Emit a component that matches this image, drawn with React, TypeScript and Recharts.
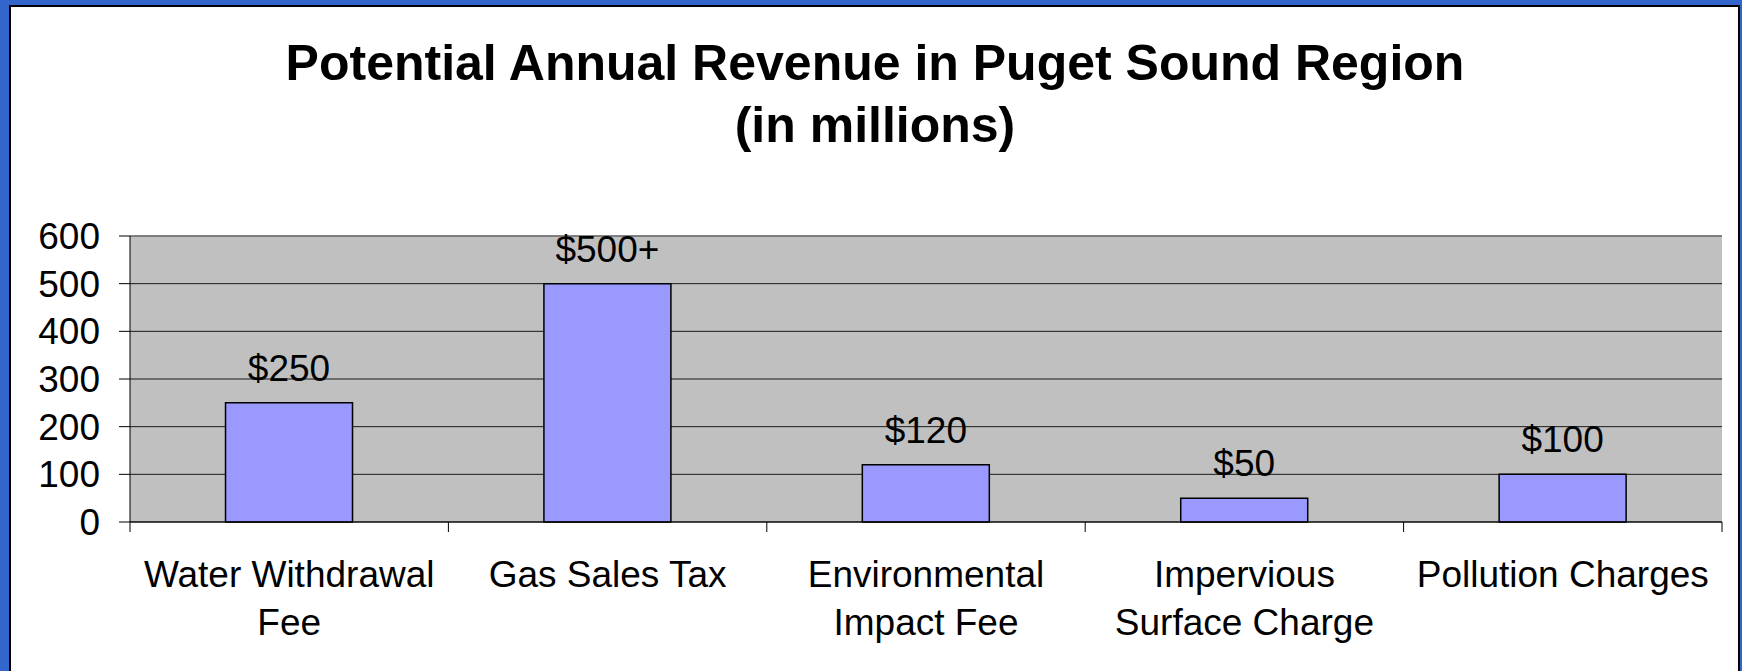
import React from 'react';
import { BarChart, Bar, XAxis, YAxis, CartesianGrid, LabelList, ReferenceLine } from 'recharts';

const categories = [
  'Water Withdrawal\nFee',
  'Gas Sales Tax',
  'Environmental\nImpact Fee',
  'Impervious\nSurface Charge',
  'Pollution Charges',
];
const revenue = [250, 500, 120, 50, 100];
const valueLabels = ['$250', '$500+', '$120', '$50', '$100'];
const yTicks = [0, 100, 200, 300, 400, 500, 600];
const titleLines = ['Potential Annual Revenue in Puget Sound Region', '(in millions)'];

const data = categories.map((c, i) => ({ name: c, value: revenue[i], label: valueLabels[i] }));

const W = 1742;
const H = 671;
const Y_AXIS_W = 130;
const MARGIN_RIGHT = 20;
const MARGIN_TOP = 236;
const X_AXIS_H = 149;
const PLOT_BOTTOM = H - X_AXIS_H;
const BAND = (W - Y_AXIS_W - MARGIN_RIGHT) / categories.length;
const FONT = '"Liberation Sans", Arial, Helvetica, sans-serif';

const CategoryTick = (props: any) => {
  const { x, payload, index } = props;
  const lines = String(payload.value).split('\n');
  const half = BAND / 2;
  return (
    <g>
      <line x1={x - half} x2={x - half} y1={PLOT_BOTTOM} y2={PLOT_BOTTOM + 10} stroke="#000" strokeWidth={1} />
      {index === categories.length - 1 && (
        <line x1={x + half} x2={x + half} y1={PLOT_BOTTOM} y2={PLOT_BOTTOM + 10} stroke="#000" strokeWidth={1} />
      )}
      <text x={x} y={PLOT_BOTTOM + 65} textAnchor="middle" fontSize={37} fill="#000" fontFamily={FONT}>
        {lines.map((l, i) => (
          <tspan key={i} x={x} dy={i === 0 ? 0 : 47.5}>
            {l}
          </tspan>
        ))}
      </text>
    </g>
  );
};

export default function App() {
  return (
    <div style={{ position: 'fixed', left: 0, top: 0, width: W, height: H, background: '#3366CC', overflow: 'hidden' }}>
      <div
        style={{
          position: 'absolute',
          left: 9,
          top: 5,
          width: 1731,
          height: 720,
          background: '#fff',
          borderLeft: '2px solid #000',
          borderTop: '2px solid #000',
          borderRight: '2px solid #000',
          boxSizing: 'border-box',
        }}
      />
      <div style={{ position: 'absolute', left: 0, top: 0 }}>
        <BarChart
          width={W}
          height={H}
          data={data}
          margin={{ top: MARGIN_TOP, right: MARGIN_RIGHT, bottom: 0, left: 0 }}
          barCategoryGap="30%"
        >
          <CartesianGrid vertical={false} fill="#C0C0C0" stroke="#1a1a1a" strokeWidth={1} />
          <XAxis
            dataKey="name"
            height={X_AXIS_H}
            interval={0}
            tickLine={false}
            axisLine={{ stroke: '#000', strokeWidth: 1 }}
            tick={<CategoryTick />}
          />
          <YAxis
            width={Y_AXIS_W}
            domain={[0, 600]}
            ticks={yTicks}
            interval={0}
            tickSize={11}
            tickMargin={19}
            axisLine={{ stroke: '#000', strokeWidth: 1 }}
            tickLine={{ stroke: '#000', strokeWidth: 1 }}
            tick={{ fontSize: 37, fill: '#000', fontFamily: FONT }}
          />
          <YAxis
            yAxisId="r"
            orientation="right"
            width={0}
            domain={[0, 600]}
            tick={false}
            tickLine={false}
            axisLine={{ stroke: '#808080', strokeWidth: 1.5 }}
          />
          <ReferenceLine y={600} stroke="#808080" strokeWidth={1.5} />
          <Bar dataKey="value" fill="#9999FF" stroke="#000" strokeWidth={1.5} isAnimationActive={false}>
            <LabelList dataKey="label" position="top" offset={22} fill="#000" fontSize={37} fontFamily={FONT} />
          </Bar>
        </BarChart>
      </div>
      <div
        style={{
          position: 'absolute',
          left: 10,
          top: 32,
          width: 1730,
          textAlign: 'center',
          fontFamily: FONT,
          fontWeight: 'bold',
          fontSize: 50,
          lineHeight: '62px',
          color: '#000',
        }}
      >
        {titleLines.map((t, i) => (
          <div key={i}>{t}</div>
        ))}
      </div>
    </div>
  );
}
